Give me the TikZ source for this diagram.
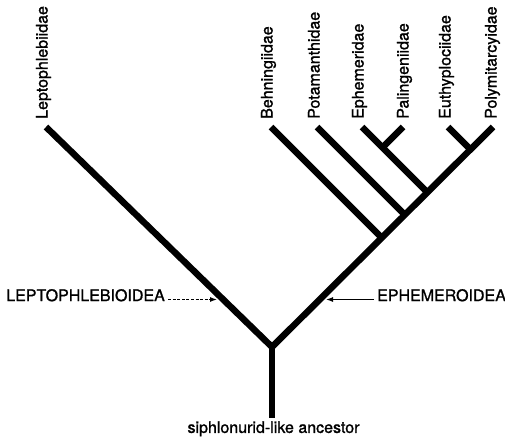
\documentclass[tikz,border=0pt]{standalone}
\usepackage{fontspec}
\setmainfont{TeX Gyre Heros}
\newfontfamily\lblfont{TeX Gyre Heros}[FakeBold=1.2]
\usetikzlibrary{arrows.meta}
\tikzset{
  branch/.style={line width=6.5pt, line cap=butt, line join=miter},
  taxon/.style={rotate=90, anchor=west, inner sep=0pt, font=\fontsize{16}{19}\lblfont, text height=0.72em, text depth=0.21em},
  grouplabel/.style={inner sep=0pt, font=\fontsize{16}{19}\lblfont, text height=0.72em, text depth=0pt},
  pointer/.style={line width=1.1pt, -{Latex[length=7pt,width=5pt]}}
}
\begin{document}
\begin{tikzpicture}[x=1pt,y=-1pt]
\useasboundingbox (0,0) rectangle (505,444);
% tips
\coordinate (L) at (46,127);
\coordinate (B) at (271,127);
\coordinate (T) at (317,127);
\coordinate (E) at (362,127);
\coordinate (P) at (403,127);
\coordinate (U) at (448,127);
\coordinate (Y) at (493,127);
% internal
\coordinate (F) at (272,347);
\coordinate (R) at (272,418);
\coordinate (EU) at (470.5,149.5);
\coordinate (EP) at (382.5,147.5);
\coordinate (EPm) at (427,192);
\coordinate (Tm) at (404.5,214.5);
\coordinate (Bm) at (381.5,237.5);
% branches
\draw[branch] (L) -- (F) -- (Y);
\draw[line width=6pt] (F) -- (R);
\draw[branch] (U) -- (EU);
\draw[branch] (E) -- (EPm);
\draw[branch] (P) -- (EP);
\draw[branch] (T) -- (Tm);
\draw[branch] (B) -- (Bm);
% taxa
\node[taxon] (nL) at (45,119) {Leptophlebiidae};
\node[taxon] (nB) at (270,119) {Behningiidae};
\node[taxon] (nT) at (317,119) {Potamanthidae};
\node[taxon] (nE) at (361,119) {Ephemeridae};
\node[taxon] (nP) at (406,119) {Palingeniidae};
\node[taxon] (nU) at (448,119) {Euthyplociidae};
\node[taxon] (nY) at (494,119) {Polymitarcyidae};
% group labels
\node[grouplabel, anchor=east] (lep) at (165,297.5) {LEPTOPHLEBIOIDEA};
\node[grouplabel, anchor=west] (eph) at (377,297.5) {EPHEMEROIDEA};
\coordinate (lepA) at (217,299.5);
\coordinate (ephA) at (326,299.5);
\draw[pointer, dash pattern=on 3pt off 1.6pt] (lep.east |- lepA) ++(3,0) -- (lepA);
\draw[pointer] (eph.west |- ephA) ++(-3,0) -- (ephA);
% ancestor
\node[inner sep=0pt, anchor=north, font=\fontsize{16}{19}\lblfont, text height=0.72em, text depth=0.21em] (anc) at (273.5,425.5) {siphlonurid-like ancestor};
\end{tikzpicture}
\end{document}
